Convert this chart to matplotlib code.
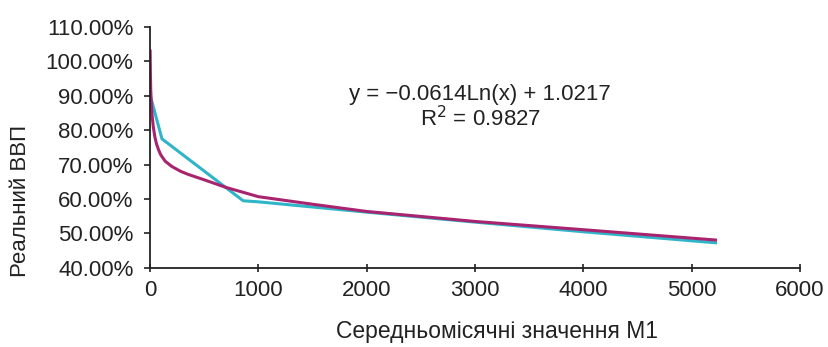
import numpy as np
import matplotlib
matplotlib.use("Agg")
import matplotlib.pyplot as plt
from matplotlib.ticker import PercentFormatter

plt.rcParams['font.family'] = ['Liberation Sans', 'DejaVu Sans']

# actual data (cyan line)
m1 = [3, 110, 860, 1000, 2000, 3000, 4000, 5220]
gdp = [0.90, 0.775, 0.595, 0.592, 0.562, 0.533, 0.505, 0.473]

# log trend line (magenta)
trend_x = [1, 3, 6, 12, 20, 30, 45, 60, 80, 100, 140, 200, 280, 350, 500, 700,
           1000, 1500, 2000, 3000, 4000, 5220]
trend_y = [1.03, 0.97, 0.92, 0.875, 0.84, 0.81, 0.78, 0.76, 0.742, 0.728, 0.71,
           0.695, 0.681, 0.672, 0.656, 0.634, 0.607, 0.585, 0.564, 0.535, 0.511, 0.481]

equation = "y = \u22120.0614Ln(x) + 1.0217"
r2 = "R$^2$ = 0.9827"

fig = plt.figure(figsize=(8.29, 3.47), dpi=100)
ax = fig.add_axes([0.181, 0.228, 0.784, 0.694])

ax.plot(m1, gdp, color="#30b4c8", lw=2.2, solid_joinstyle="round")
ax.plot(trend_x, trend_y, color="#a8246f", lw=2.2, solid_joinstyle="round")

ax.set_xlim(0, 6000)
ax.set_ylim(0.40, 1.10)
ax.set_xticks(np.arange(0, 6001, 1000))
ax.set_yticks(np.arange(0.40, 1.101, 0.10))
ax.yaxis.set_major_formatter(PercentFormatter(1.0, decimals=2))

for s in ["top", "right"]:
    ax.spines[s].set_visible(False)
for s in ["left", "bottom"]:
    ax.spines[s].set_linewidth(1.3)
    ax.spines[s].set_color("#222222")

ax.tick_params(axis="x", direction="inout", length=6, width=1.2, labelsize=16, pad=6, colors="#222222")
ax.tick_params(axis="y", direction="out", length=4, width=1.2, labelsize=16, pad=8, colors="#222222")

ax.text(0.508, 0.718, equation, transform=ax.transAxes, ha="center", va="center",
        fontsize=16, color="#222222")
ax.text(0.508, 0.618, r2, transform=ax.transAxes, ha="center", va="center",
        fontsize=16, color="#222222")

fig.text(0.025, 0.42, "Реальний ВВП", rotation=90, ha="center", va="center",
         fontsize=16, color="#222222")
fig.text(0.60, 0.045, "Середньомісячні значення М1", ha="center", va="center",
         fontsize=16.5, color="#222222")

fig.savefig("out.png", dpi=100)
